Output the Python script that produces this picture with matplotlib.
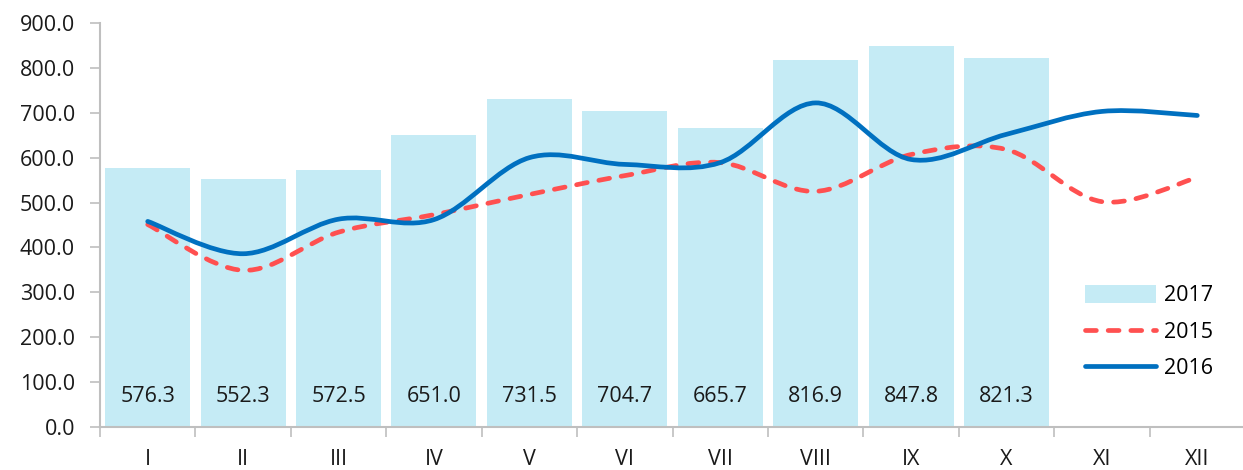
import numpy as np
import matplotlib
matplotlib.use('Agg')
import matplotlib.pyplot as plt
from matplotlib.path import Path
from matplotlib.patches import PathPatch
from matplotlib.lines import Line2D
from matplotlib.patches import Patch

months = ['I', 'II', 'III', 'IV', 'V', 'VI', 'VII', 'VIII', 'IX', 'X', 'XI', 'XII']
vals_2017 = [576.3, 552.3, 572.5, 651.0, 731.5, 704.7, 665.7, 816.9, 847.8, 821.3]
vals_2015 = [451, 349, 434, 473, 518, 560, 589, 525, 607, 618, 502, 556]
vals_2016 = [458, 386, 463, 462, 600, 585, 589, 722, 596, 652, 703, 694]

plt.rcParams['font.family'] = ['Open Sans', 'DejaVu Sans']

bar_color = '#C5EBF5'
red = '#FF5050'
blue = '#0070C0'
gray = '#BFBFBF'
txt = '#1A1A1A'
fs = 15.5
lw = 3.4


def smooth_path(xs, ys):
    '''Excel-like smoothed line: cubic bezier through points (Catmull-Rom).'''
    xs = np.asarray(xs, float)
    ys = np.asarray(ys, float)
    n = len(xs)
    verts = [(xs[0], ys[0])]
    codes = [Path.MOVETO]
    for i in range(n - 1):
        p0 = (xs[max(i - 1, 0)], ys[max(i - 1, 0)])
        p1 = (xs[i], ys[i])
        p2 = (xs[i + 1], ys[i + 1])
        p3 = (xs[min(i + 2, n - 1)], ys[min(i + 2, n - 1)])
        c1 = (p1[0] + (p2[0] - p0[0]) / 6, p1[1] + (p2[1] - p0[1]) / 6)
        c2 = (p2[0] - (p3[0] - p1[0]) / 6, p2[1] - (p3[1] - p1[1]) / 6)
        verts += [c1, c2, p2]
        codes += [Path.CURVE4] * 3
    return Path(verts, codes)


fig = plt.figure(figsize=(12.43, 4.70), dpi=100)
ax = fig.add_axes([100 / 1243, 1 - 427 / 470, 1145 / 1243, (427 - 23) / 470])

x = np.arange(len(months))
bars = ax.bar(x[:len(vals_2017)], vals_2017, width=0.89, color=bar_color, zorder=1)
for xi, v in zip(x, vals_2017):
    ax.text(xi, 67, '%.1f' % v, ha='center', va='center', fontsize=fs, color=txt, zorder=4)

dash = (0, (2.3, 2.5))
p15 = PathPatch(smooth_path(x, vals_2015), fill=False, edgecolor=red, lw=lw,
                linestyle=dash, capstyle='round', zorder=2)
p16 = PathPatch(smooth_path(x, vals_2016), fill=False, edgecolor=blue, lw=lw,
                capstyle='round', zorder=3)
ax.add_patch(p15)
ax.add_patch(p16)

ax.set_xlim(-0.5, 11.5)
ax.set_ylim(0, 900)
ax.set_yticks(np.arange(0, 901, 100))
ax.set_yticklabels(['%.1f' % t for t in np.arange(0, 901, 100)])
ax.set_xticks(x)
ax.set_xticklabels(months)
ax.set_xticks(np.arange(-0.5, 12, 1), minor=True)
ax.tick_params(axis='x', which='major', length=0, pad=15.5, labelsize=fs, labelcolor=txt)
ax.tick_params(axis='x', which='minor', length=7, width=1.2, color=gray)
ax.tick_params(axis='y', length=7, width=1.2, color=gray, labelsize=fs, labelcolor=txt, pad=11)

for s in ['top', 'right']:
    ax.spines[s].set_visible(False)
for s in ['left', 'bottom']:
    ax.spines[s].set_color(gray)
    ax.spines[s].set_linewidth(1.5)

handles = [Patch(facecolor=bar_color, edgecolor='none'),
           Line2D([], [], color=red, lw=lw, linestyle=dash, dash_capstyle='round'),
           Line2D([], [], color=blue, lw=lw, solid_capstyle='round')]
ax.legend(handles, ['2017', '2015', '2016'], loc='lower right', bbox_to_anchor=(0.972, 0.118),
          frameon=False, fontsize=fs, handlelength=3.3, handleheight=0.9, labelspacing=0.71,
          handletextpad=0.35, borderpad=0, borderaxespad=0)

fig.savefig('out.png', dpi=100)
